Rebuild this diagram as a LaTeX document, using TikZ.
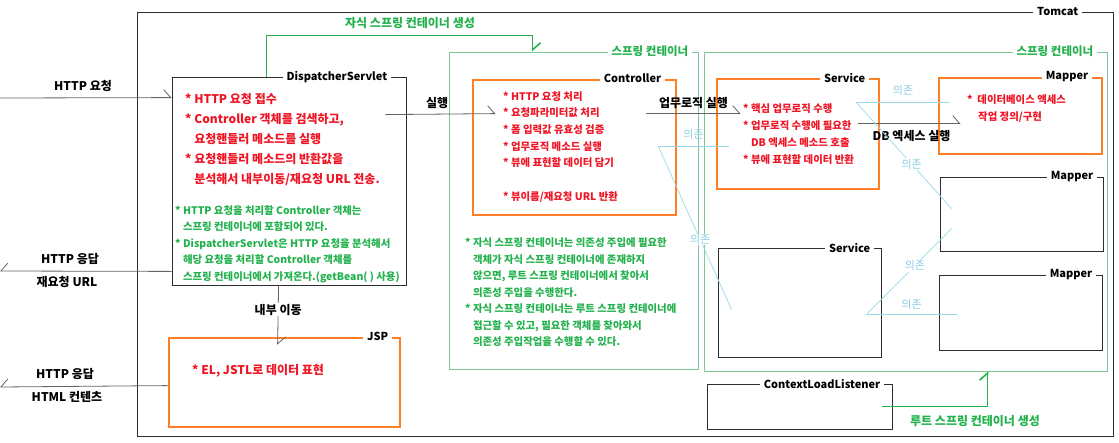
\documentclass[tikz,border=0pt]{standalone}
\usepackage{fontspec}
\setmainfont{Noto Sans CJK KR}
\usepackage{tikz}
\usetikzlibrary{arrows.meta, calc, positioning}
\usepackage{xcolor}
\definecolor{Orange}{RGB}{255,127,39}
\definecolor{SpringGreen}{RGB}{34,177,76}
\definecolor{SpringLine}{RGB}{125,200,148}
\definecolor{SkyLine}{RGB}{153,217,234}
\definecolor{SkyText}{RGB}{140,205,225}
\definecolor{NoteRed}{RGB}{240,20,36}
\definecolor{RichBlack}{RGB}{45,45,45}
\definecolor{FlowGray}{RGB}{100,100,100}
\tikzset{%
  plain_box/.style={%
    rectangle,%
    draw=RichBlack,%
    line width=0.8pt,%
    inner sep=0pt,%
  },
  orange_box/.style={%
    rectangle,%
    draw=Orange,%
    line width=2.8pt,%
    inner sep=0pt,%
  },
  spring_box/.style={%
    rectangle,%
    draw=SpringLine,%
    line width=0.9pt,%
    inner sep=0pt,%
  },
  box_title/.style={%
    fill=white,%
    inner xsep=4pt,%
    inner ysep=1pt,%
    text=black,%
    font={\bfseries\fontsize{11}{13}\selectfont},%
  },
  spring_title/.style={%
    box_title,%
    text=SpringGreen,%
    font={\bfseries\fontsize{11.5}{13}\selectfont},%
  },
  annotate/.style={%
    inner sep=1pt,%
    text=black,%
    font={\bfseries\fontsize{12}{14}\selectfont},%
  },
  spawn_annotate/.style={%
    annotate,%
    text=SpringGreen,%
  },
  dep_annotate/.style={%
    inner sep=1pt,%
    text=SkyText,%
    font={\fontsize{11}{13}\selectfont},%
  },
  big_note/.style={%
    anchor=north west,%
    align=left,%
    inner sep=0pt,%
    text=NoteRed,%
    font={\bfseries\fontsize{12}{20}\selectfont},%
  },
  small_note/.style={%
    big_note,%
    font={\bfseries\fontsize{10.4}{16.7}\selectfont},%
  },
  green_note/.style={%
    big_note,%
    text=SpringGreen,%
    font={\bfseries\fontsize{10.4}{16.5}\selectfont},%
  },
  flow/.style={%
    color=FlowGray,%
    line width=0.8pt,%
  },
  spawn/.style={%
    color=SpringGreen,%
    line width=1.6pt,%
  },
  depends/.style={%
    color=SkyLine,%
    line width=0.7pt,%
  },
  arrow/.style={-{Straight Barb[left, length=7pt, width=16pt]}},
  arrow_out/.style={-{Straight Barb[right, length=7pt, width=16pt]}},
}

\begin{document}
\begin{tikzpicture}[x=1pt, y=-1pt]
    \useasboundingbox (0,0) rectangle (1119,442);

    % containers
    \node [plain_box, minimum width=976pt, minimum height=424pt] (Tomcat) at (625,224) {};
    \node [box_title, left=31pt of Tomcat.north east] (Tomcat_title) {Tomcat};
    \node [spring_box, minimum width=249pt, minimum height=317pt] (ChildCtx) at (573.5,210.5) {};
    \node [spring_title, left=6pt of ChildCtx.north east] (ChildCtx_title) {스프링 컨테이너};
    \node [spring_box, minimum width=403pt, minimum height=319pt] (RootCtx) at (905.5,211.5) {};
    \node [spring_title, left=10pt of RootCtx.north east] (RootCtx_title) {스프링 컨테이너};

    % boxes
    \node [plain_box, minimum width=234pt, minimum height=208pt] (DS) at (289,181) {};
    \node [box_title, left=15pt of DS.north east] (DS_title) {DispatcherServlet};
    \node [orange_box, minimum width=231pt, minimum height=89pt] (JSP) at (284.5,382.5) {};
    \node [box_title, left=9pt of JSP.north east] (JSP_title) {JSP};
    \node [orange_box, minimum width=203pt, minimum height=135pt] (Controller) at (574.5,147.5) {};
    \node [box_title, left=12pt of Controller.north east] (Controller_title) {Controller};
    \node [orange_box, minimum width=162pt, minimum height=110pt] (Service) at (798,134) {};
    \node [box_title, left=11pt of Service.north east] (Service_title) {Service};
    \node [orange_box, minimum width=163pt, minimum height=76pt] (Mapper) at (1020.5,116) {};
    \node [box_title, left=11pt of Mapper.north east] (Mapper_title) {Mapper};
    \node [plain_box, minimum width=163pt, minimum height=74pt] (Mapper2) at (1021.5,214) {};
    \node [box_title, left=6pt of Mapper2.north east] (Mapper2_title) {Mapper};
    \node [plain_box, minimum width=163pt, minimum height=109pt] (Service2) at (799.5,302.5) {};
    \node [box_title, left=7pt of Service2.north east] (Service2_title) {Service};
    \node [plain_box, minimum width=163pt, minimum height=75pt] (Mapper3) at (1020.5,312.5) {};
    \node [box_title, left=6pt of Mapper3.north east] (Mapper3_title) {Mapper};
    \node [plain_box, minimum width=185pt, minimum height=45pt] (CLL) at (799.5,406.5) {};
    \node [box_title, left=8pt of CLL.north east] (CLL_title) {ContextLoadListener};

    % notes
    \node [big_note] (DS_note) at (185,93) {%
      * HTTP 요청 접수\\
      * Controller 객체를 검색하고,\\
      \phantom{* }요청핸들러 메소드를 실행\\
      * 요청핸들러 메소드의 반환값을\\
      \phantom{* }분석해서 내부이동/재요청 URL 전송.};
    \node [green_note] (DS_green) at (175,205) {%
      * HTTP 요청을 처리할 Controller 객체는\\
      \phantom{* }스프링 컨테이너에 포함되어 있다.\\
      * DispatcherServlet은 HTTP 요청을 분석해서\\
      \phantom{* }해당 요청을 처리할 Controller 객체를\\
      \phantom{* }스프링 컨테이너에서 가져온다.(getBean( ) 사용)};
    \node [small_note] (Controller_note) at (503,91) {%
      * HTTP 요청 처리\\
      * 요청파라미터값 처리\\
      * 폼 입력값 유효성 검증\\
      * 업무로직 메소드 실행\\
      * 뷰에 표현할 데이터 담기\\[16.7pt]
      * 뷰이름/재요청 URL 반환};
    \node [small_note] (Service_note) at (743,104) {%
      * 핵심 업무로직 수행\\
      * 업무로직 수행에 필요한\\
      \phantom{* }DB 엑세스 메소드 호출\\
      * 뷰에 표현할 데이터 반환};
    \node [small_note] (Mapper_note) at (967,95) {%
      *\ \ 데이터베이스 액세스\\
      \hspace{11pt}작업 정의/구현};
    \node [big_note] (JSP_note) at (192,364.5) {* EL, JSTL로 데이터 표현};
    \node [green_note] (Child_green) at (465,238) {%
      * 자식 스프링 컨테이너는 의존성 주입에 필요한\\
      \phantom{* }객체가 자식 스프링 컨테이너에 존재하지\\
      \phantom{* }않으면, 루트 스프링 컨테이너에서 찾아서\\
      \phantom{* }의존성 주입을 수행한다.\\
      * 자식 스프링 컨테이너는 루트 스프링 컨테이너에\\
      \phantom{* }접근할 수 있고, 필요한 객체를 찾아와서\\
      \phantom{* }의존성 주입작업을 수행할 수 있다.};

    % outside ends
    \coordinate (req_in) at (0,98);
    \coordinate (resp_out) at (0,271);
    \coordinate (html_out) at (0,387);

    \draw [arrow, flow]
      (req_in) -- ($(DS.north west)+(0,21)$);
    \node [annotate] (req_label) at (83,86) {HTTP 요청};
    \draw [arrow_out, flow]
      ($(DS.south west)+(0,-14)$) -- (resp_out);
    \node [annotate] (resp_label) at (70,259) {HTTP 응답};
    \node [annotate] (redirect_label) at (67,282) {재요청 URL};
    \draw [arrow_out, flow]
      ($(JSP.north west)+(0,49)$) -- (html_out);
    \node [annotate] (resp2_label) at (65,374) {HTTP 응답};
    \node [annotate] (html_label) at (67,397) {HTML 컨텐츠};

    \draw [arrow, flow]
      ($(DS.north east)+(-21,38)$) -- ($(Controller.north west)+(24,35)$)
      node [annotate, above=4pt, pos=0.47] {실행};
    \draw [arrow, flow]
      ($(Controller.north east)+(-31,35)$) -- ($(Service.north west)+(25,36)$)
      node [annotate, above=4pt, midway] {업무로직 실행};
    \draw [arrow, flow]
      ($(Service.north east)+(-22,46)$) -- ($(Mapper.north west)+(23,47)$)
      node [annotate, below=5pt, pos=0.52] {DB 엑세스 실행};
    \draw [arrow, flow]
      ($(DS.south west)+(107,0)$) -- ($(JSP.north west)+(110,8)$)
      node [annotate, fill=white, pos=0.41] {내부 이동};

    % container creation
    \draw [arrow, spawn]
      ($(DS.north west)+(95,0)$) -- ++(0,-41) -| ($(ChildCtx.north west)+(84,0)$);
    \node [spawn_annotate] (child_made) at (410,23) {자식 스프링 컨테이너 생성};
    \draw [arrow, spawn]
      ($(CLL.north east)+(-10,23)$) -| ($(RootCtx.south west)+(284,0)$);
    \node [spawn_annotate] (root_made) at (975,421) {루트 스프링 컨테이너 생성};

    % dependencies
    \draw [depends]
      ($(Controller.north east)+(-19,68)$) coordinate (ctrl_dep)
      -- ($(Service.north west)+(13,69)$)
      node [dep_annotate, above=6pt, midway] {의존};
    \draw [depends]
      (ctrl_dep) -- ($(Service2.north west)+(14,62)$)
      node [dep_annotate, fill=white, pos=0.57] {의존};
    \draw [depends]
      ($(Service.north east)+(-24,25)$) coordinate (svc_dep)
      -- ($(Mapper.north west)+(12,26)$)
      node [dep_annotate, above=6pt, midway] {의존};
    \draw [depends]
      (svc_dep) -- ($(Mapper2.north west)+(12,32)$)
      node [dep_annotate, fill=white, pos=0.58] {의존};
    \draw [depends]
      ($(Service2.north east)+(-15,67)$) coordinate (svc2_dep)
      -- ($(Mapper3.north west)+(18,40)$)
      node [dep_annotate, above=4pt, midway] {의존};
    \draw [depends]
      (svc2_dep) -- ($(Mapper2.north west)+(12,52)$)
      node [dep_annotate, fill=white, pos=0.57] {의존};

  \end{tikzpicture}
\end{document}
